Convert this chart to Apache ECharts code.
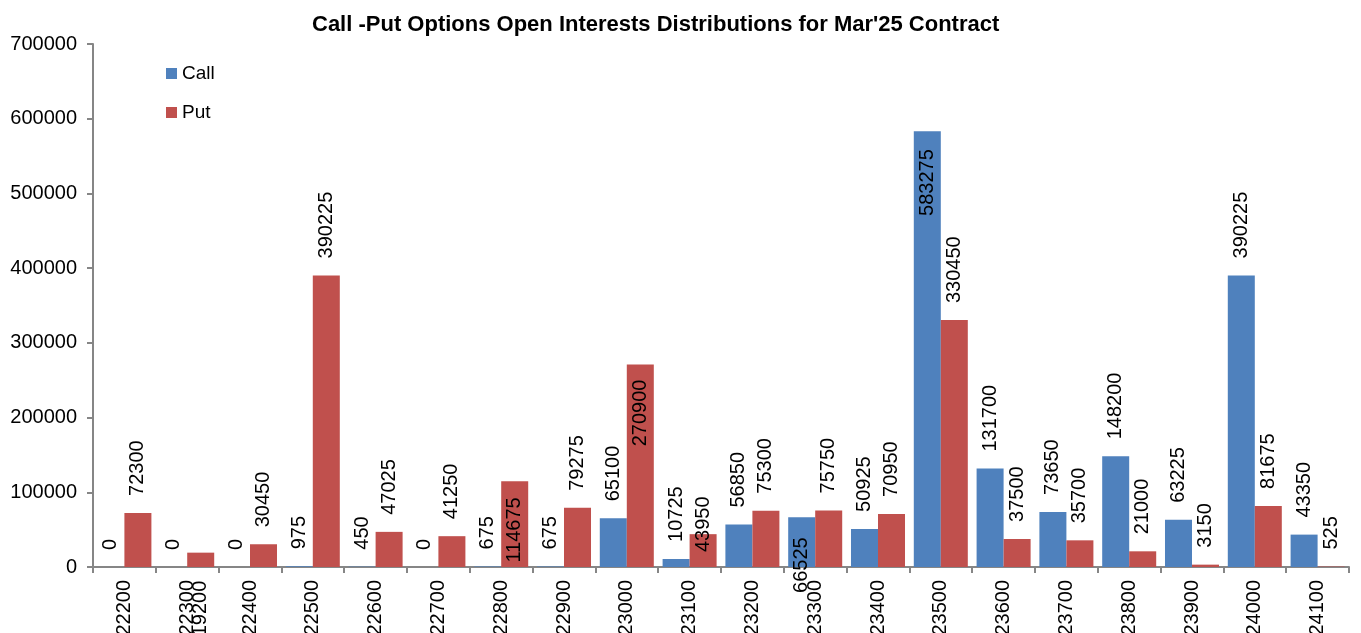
<!DOCTYPE html>
<html>
<head>
<meta charset="utf-8">
<script src="https://cdn.jsdelivr.net/npm/echarts@6/dist/echarts.min.js"></script>
<style>html,body{margin:0;padding:0;background:#fff;overflow:hidden;}#c{width:1361px;height:633px;}</style>
</head>
<body>
<div id="c"></div>
<script>
const strikes = ['22200','22300','22400','22500','22600','22700','22800','22900','23000','23100','23200','23300','23400','23500','23600','23700','23800','23900','24000','24100'];
const callOI = [0,0,0,975,450,0,675,675,65100,10725,56850,66525,50925,583275,131700,73650,148200,63225,390225,43350];
const putOI = [72300,19200,30450,390225,47025,41250,114675,79275,270900,43950,75300,75750,70950,330450,37500,35700,21000,3150,81675,525];
const yTicks = { min: 0, max: 700000, interval: 100000 };
const titleText = "Call -Put Options Open Interests Distributions for Mar'25 Contract";

// label placement tweaks (style only), keyed by series + strike
const labelTweaks = {
  'Call:23500': { position: 'insideTop', align: 'right', distance: 18 },
  'Call:23300': { position: 'insideTop', align: 'right', distance: 20 },
  'Put:22800': { position: 'insideTop', align: 'right', distance: 16 },
  'Put:23000': { position: 'insideTop', align: 'right', distance: 15 },
  'Put:23100': { position: 'insideBottom', align: 'left', distance: 15 },
  'Put:22300': { position: 'insideTop', align: 'right', distance: 28 }
};

const FONT = '"Liberation Sans", Arial, sans-serif';
function build(name, vals) {
  return vals.map((v, i) => {
    const t = labelTweaks[name + ':' + strikes[i]];
    return t ? { value: v, label: t } : v;
  });
}
const baseLabel = {
  show: true, position: 'top', rotate: 90, align: 'left', verticalAlign: 'middle',
  distance: 17, color: '#000', fontSize: 20, fontFamily: FONT
};

const chart = echarts.init(document.getElementById('c'), null, { renderer: 'canvas' });
chart.setOption({
  animation: false,
  backgroundColor: '#fff',
  title: {
    text: titleText, left: 307, top: 9,
    textStyle: { fontFamily: FONT, fontSize: 22, fontWeight: 'bold', color: '#000' }
  },
  legend: {
    orient: 'vertical', left: 161, top: 59, itemWidth: 11, itemHeight: 11, itemGap: 20,
    icon: 'rect',
    textStyle: { fontFamily: FONT, fontSize: 19, color: '#000' },
    data: ['Call', 'Put']
  },
  grid: { left: 93, right: 12, top: 44, bottom: 66, containLabel: false, outerBoundsMode: 'none' },
  xAxis: {
    type: 'category', data: strikes,
    axisLine: { lineStyle: { color: '#868686', width: 2 } },
    axisTick: { show: true, length: 6, lineStyle: { color: '#868686', width: 2 } },
    axisLabel: { rotate: 90, margin: 13, color: '#000', fontSize: 20, fontFamily: FONT, interval: 0 }
  },
  yAxis: {
    type: 'value', min: yTicks.min, max: yTicks.max, interval: yTicks.interval,
    splitLine: { show: false },
    axisLine: { show: true, lineStyle: { color: '#868686', width: 2 } },
    axisTick: { show: true, length: 6, lineStyle: { color: '#868686', width: 2 } },
    axisLabel: { margin: 16, color: '#000', fontSize: 20, fontFamily: FONT, formatter: v => String(v) }
  },
  series: [
    { name: 'Call', type: 'bar', data: build('Call', callOI), barGap: '0%', barCategoryGap: '14%',
      itemStyle: { color: '#4F81BD' }, label: baseLabel },
    { name: 'Put', type: 'bar', data: build('Put', putOI), barGap: '0%', barCategoryGap: '14%',
      itemStyle: { color: '#C0504D' }, label: baseLabel }
  ]
});
</script>
</body>
</html>
